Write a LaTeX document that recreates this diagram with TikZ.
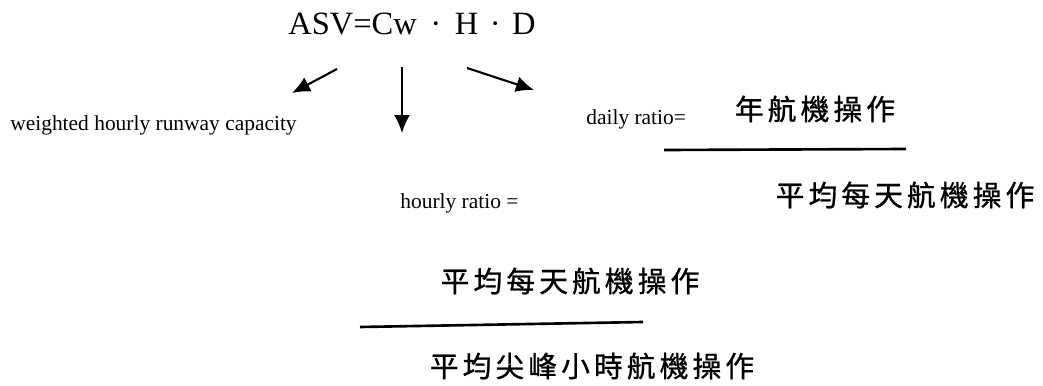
\documentclass[tikz,border=0pt]{standalone}
\usepackage{fontspec}
\setmainfont{Liberation Serif}
\newfontfamily\cjkfont[LetterSpace=14,FakeBold=0.9]{Noto Sans CJK TC}
\usepackage{tikz}
\usetikzlibrary{arrows.meta,positioning}
\tikzset{
  formulanode/.style={inner sep=0pt, font=\fontsize{18.5}{20}\selectfont},
  labelnode/.style={inner sep=0pt, font=\fontsize{12.2}{14}\selectfont},
  cjknode/.style={inner sep=0pt, font=\cjkfont\fontsize{16.4}{18}\selectfont},
  ratioarrow/.style={-{Latex[length=3.6mm,width=3.2mm]}, line width=1.2pt},
  fracline/.style={line width=1.5pt},
}

\begin{document}
\begin{tikzpicture}[x=0.02cm, y=-0.02cm]
  \useasboundingbox (0,0) rectangle (1043,385);
  \node[formulanode, anchor=base west] (asv) at (288,35)
    {ASV=Cw\hspace{0.42em}·\hspace{0.42em}H\hspace{0.35em}·\hspace{0.35em}D};
  \node[labelnode, anchor=base west] (capacity) at (10,130) {weighted hourly runway capacity};
  \node[labelnode, anchor=base west] (daily) at (586,124) {daily ratio=};
  \node[cjknode] (yearops) at (815,109) {年航機操作};
  \node[cjknode] (dayops) at (905,195) {平均每天航機操作};
  \node[labelnode, anchor=base west] (hourly) at (400,208) {hourly ratio =};
  \node[cjknode] (dayops2) at (570,281) {平均每天航機操作};
  \node[cjknode] (peakops) at (592,366) {平均尖峰小時航機操作};
  % arrow ends
  \coordinate (l0) at (337,69);  \coordinate (l1) at (292,93);
  \coordinate (m0) at (402,67);  \coordinate (m1) at (402,133);
  \coordinate (r0) at (467,68);  \coordinate (r1) at (534,90);
  \foreach \a/\b in {l0/l1,m0/m1,r0/r1}
    \draw[ratioarrow] (\a) -- (\b);
  % fraction bars
  \coordinate (d0) at (664,150); \coordinate (d1) at (906,149);
  \coordinate (h0) at (360,327); \coordinate (h1) at (643,322);
  \draw[fracline] (d0) -- (d1);
  \draw[fracline] (h0) -- (h1);
\end{tikzpicture}
\end{document}
